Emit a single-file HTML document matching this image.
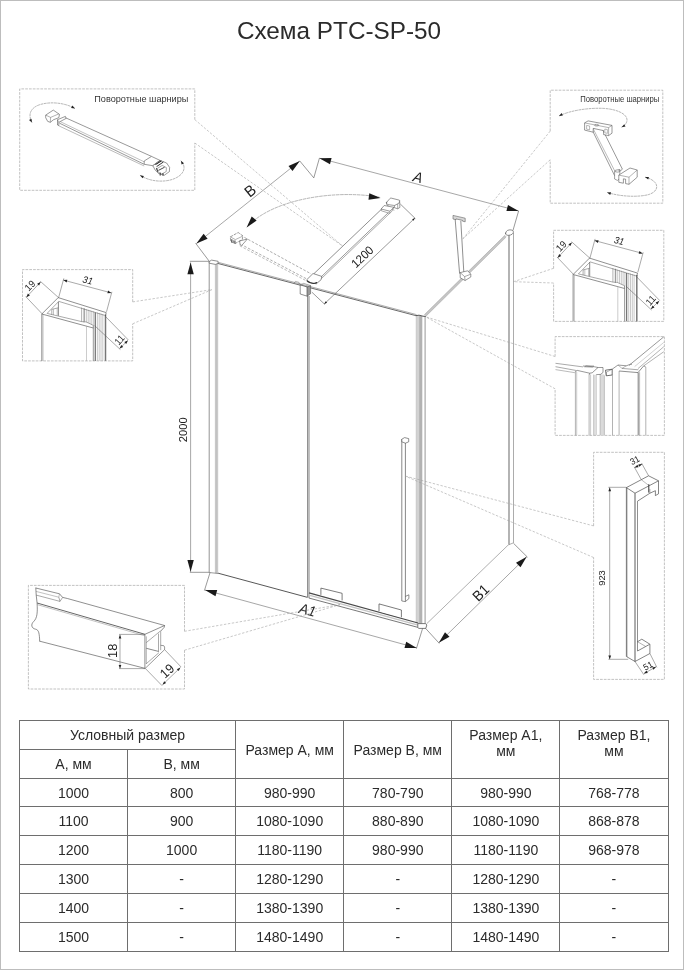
<!DOCTYPE html>
<html lang="ru">
<head>
<meta charset="utf-8">
<title>Схема PTC-SP-50</title>
<style>
  html, body { margin: 0; padding: 0; background: #fff; }
  body { width: 684px; height: 970px; position: relative; overflow: hidden;
         font-family: "Liberation Sans", sans-serif; color: #2b2b2b; }
  .frame, h1, #drawing, table.sizes { will-change: transform; }
  .frame { position: absolute; left: 0; top: 0; width: 682px; height: 968px; border: 1px solid #bdbdbd; }
  h1 { position: absolute; left: 0; top: 15px; width: 678px; margin: 0; text-align: center;
       font-weight: normal; font-size: 24.3px; line-height: 32px; color: #2b2b2b; letter-spacing: 0; }
  #drawing { position: absolute; left: 0; top: 0; width: 684px; height: 970px; }
  table.sizes { position: absolute; left: 19px; top: 720px; width: 649.5px; border-collapse: collapse;
        table-layout: fixed; font-size: 14px; color: #2b2b2b; }
  table.sizes td, table.sizes th { border: 1px solid #6e6e6e; padding: 0; text-align: center;
        font-weight: normal; height: 28px; line-height: 16px; vertical-align: middle; }
  table.sizes tr.s td { height: 27px; }
  table.sizes th.two { vertical-align: top; padding-top: 6px; }
</style>
</head>
<body>
<div class="frame"></div>
<h1>Схема PTC-SP-50</h1>
<svg id="drawing" viewBox="0 0 684 970" width="684" height="970" font-family="Liberation Sans, sans-serif">
<!--DRAWING-->
<g id="enclosure">
<line x1="209.2" y1="261.5" x2="209.2" y2="572.5" stroke="#666" stroke-width="0.7"/>
<line x1="216.5" y1="263" x2="216.5" y2="573.3" stroke="#c2c2c2" stroke-width="2.3"/>
<line x1="215.3" y1="263" x2="215.3" y2="573" stroke="#aaa" stroke-width="0.4"/>
<line x1="217.8" y1="263" x2="217.8" y2="573.5" stroke="#aaa" stroke-width="0.4"/>
<polygon points="209.2,261.6 211.6,260.1 218.1,261.3 218.1,263.4 215.4,264.4 209.2,263.2" fill="#fff" stroke="#444" stroke-width="0.6" stroke-linejoin="round"/>
<line x1="218.1" y1="262.3" x2="416.5" y2="314.6" stroke="#888" stroke-width="0.7"/>
<line x1="218.1" y1="263.5" x2="416.5" y2="315.8" stroke="#444" stroke-width="0.8"/>
<line x1="307.6" y1="296" x2="307.6" y2="597" stroke="#666" stroke-width="0.8"/>
<line x1="309" y1="296" x2="309" y2="598" stroke="#666" stroke-width="0.8"/>
<line x1="209.2" y1="572.5" x2="218.1" y2="573.5" stroke="#555" stroke-width="0.6"/>
<line x1="218.1" y1="573.2" x2="307.6" y2="597.4" stroke="#444" stroke-width="0.9"/>
<line x1="417.7" y1="315.6" x2="417.7" y2="623.4" stroke="#d2d2d2" stroke-width="2.8"/>
<line x1="420.7" y1="315.9" x2="420.7" y2="623.8" stroke="#b2b2b2" stroke-width="3.2"/>
<line x1="425.1" y1="316" x2="425.1" y2="623.6" stroke="#a0a0a0" stroke-width="1.1"/>
<line x1="416.2" y1="315.4" x2="416.2" y2="623.2" stroke="#aaa" stroke-width="0.5"/>
<path d="M416.2,315.6 L419,315.2 L423,316.2 L425.6,316.4" fill="none" stroke="#555" stroke-width="1" stroke-linejoin="round" stroke-linecap="round"/>
<line x1="425" y1="315.6" x2="505.6" y2="236" stroke="#c6c6c6" stroke-width="2.2"/>
<line x1="424.3" y1="314.8" x2="505" y2="235.2" stroke="#999" stroke-width="0.45"/>
<line x1="425.8" y1="316.4" x2="506.3" y2="236.9" stroke="#999" stroke-width="0.45"/>
<line x1="509" y1="234" x2="509" y2="544.6" stroke="#b0b0b0" stroke-width="1.9"/>
<line x1="513.5" y1="233" x2="513.5" y2="542.8" stroke="#888" stroke-width="0.7"/>
<path d="M505.6,233.2 C505.8,230.6 508.5,229.6 511,229.9 C513.2,230.2 513.8,231.8 513.2,233 C512.2,235 509,235.6 507,235.2 C506,235 505.6,234.2 505.6,233.2 Z" fill="#fff" stroke="#444" stroke-width="0.6" stroke-linejoin="round" stroke-linecap="round"/>
<line x1="426.6" y1="623.8" x2="508" y2="545.2" stroke="#8e8e8e" stroke-width="0.7"/>
<line x1="508.2" y1="545" x2="513.5" y2="542.8" stroke="#777" stroke-width="0.6"/>
<line x1="309" y1="592.8" x2="418" y2="623" stroke="#4a4a4a" stroke-width="1.2"/>
<line x1="309" y1="595.2" x2="418" y2="625.2" stroke="#c4c4c4" stroke-width="1.4"/>
<line x1="308.8" y1="598" x2="418" y2="627.4" stroke="#555" stroke-width="0.8"/>
<polygon points="417.8,623.6 425.6,623.6 426.8,625 425.8,628.4 418.6,628.4 417.8,627.2" fill="#fff" stroke="#444" stroke-width="0.7" stroke-linejoin="round"/>
<polyline points="320.9,594.9 320.9,588.1 342.1,593.3 342.1,600.4" fill="#fff" stroke="#444" stroke-width="0.7" stroke-linejoin="round"/>
<polyline points="379,611.3 379,603.9 401.4,610 401.4,617.3" fill="#fff" stroke="#444" stroke-width="0.7" stroke-linejoin="round"/>
<line x1="401.8" y1="439" x2="401.8" y2="601" stroke="#555" stroke-width="0.7"/>
<line x1="405.4" y1="441" x2="405.4" y2="601.4" stroke="#555" stroke-width="0.7"/>
<polygon points="401.8,439.2 404.6,437.6 408.7,438.6 408.7,441.8 405.4,443.2 401.8,441.8" fill="#fff" stroke="#444" stroke-width="0.6" stroke-linejoin="round"/>
<polyline points="401.8,601 405.4,601.6 408.9,598.6 408.9,594.8 405.4,596.4" fill="none" stroke="#444" stroke-width="0.6" stroke-linejoin="round"/>
</g>
<g id="bars">
<line x1="314" y1="273.6" x2="381.4" y2="209.3" stroke="#444" stroke-width="0.6"/>
<line x1="320.4" y1="277.6" x2="388.4" y2="212.6" stroke="#444" stroke-width="0.55"/>
<line x1="321.4" y1="278.6" x2="389.3" y2="213.7" stroke="#666" stroke-width="0.55"/>
<polyline points="399.6,200.3 399.9,207.4 397.7,208.8 394.2,207.6 394.7,205.2" fill="#fff" stroke="#444" stroke-width="0.55" stroke-linejoin="round"/>
<line x1="397.7" y1="208.8" x2="397.7" y2="204" stroke="#555" stroke-width="0.5"/>
<path d="M386.6,202.3 L390.2,198.3 Q390.6,197.9 391.2,198.1 L399.2,200.1 Q399.9,200.4 399.5,201.2 L399.2,203 L394.9,205.3 Q394.5,205.5 393.8,205.4 L387.9,204.6 Q386,204 386.6,202.3 Z" fill="#fff" stroke="#444" stroke-width="0.55" stroke-linejoin="round" stroke-linecap="round"/>
<path d="M386.5,203 L386.7,204.6 Q387,205.8 388.4,206" fill="none" stroke="#555" stroke-width="0.5" stroke-linejoin="round" stroke-linecap="round"/>
<polygon points="381.1,209 384.2,205.5 393.9,207.3 389.9,211.2" fill="#fff" stroke="#444" stroke-width="0.55" stroke-linejoin="round"/>
<polyline points="381.1,209 381.4,210.8 389.7,213.4 389.9,211.2" fill="none" stroke="#555" stroke-width="0.5" stroke-linejoin="round"/>
<polyline points="389.7,213.4 391.6,211.6 393.9,207.3" fill="none" stroke="#555" stroke-width="0.5" stroke-linejoin="round"/>
<line x1="392.4" y1="209.6" x2="394.4" y2="210.2" stroke="#666" stroke-width="0.5"/>
<polygon points="306.8,279.7 313,273.5 321.8,276.4 321.1,279.7 316.3,283.8 307.5,281.9" fill="#fff" stroke="#444" stroke-width="0.6" stroke-linejoin="round"/>
<path d="M307.4,281 C310,283.4 314,284 316.6,282.6" fill="none" stroke="#333" stroke-width="1.2" stroke-linejoin="round" stroke-linecap="round"/>
<polygon points="300.2,284.9 307.2,287 307.2,296.2 300.2,294" fill="#fff" stroke="#444" stroke-width="0.6" stroke-linejoin="round"/>
<polygon points="307.2,287 310.6,285.6 310.6,293.8 307.2,296.2" fill="#999" stroke="#444" stroke-width="0.5" stroke-linejoin="round"/>
<polyline points="300.2,284.9 303.6,283.4 310.6,285.6" fill="none" stroke="#555" stroke-width="0.5" stroke-linejoin="round"/>
<polyline points="294,283 295.4,281.4 299,282.4 300.2,284.6" fill="none" stroke="#666" stroke-width="0.5" stroke-linejoin="round"/>
<line x1="244.4" y1="237.4" x2="311" y2="273.8" stroke="#666" stroke-width="0.55" stroke-dasharray="2.6 1.6"/>
<line x1="240.6" y1="244.2" x2="306.5" y2="278.8" stroke="#666" stroke-width="0.55" stroke-dasharray="2.6 1.6"/>
<line x1="239.8" y1="245.8" x2="305.6" y2="280.4" stroke="#777" stroke-width="0.5" stroke-dasharray="2.6 1.6"/>
<polygon points="230.3,236.9 238.2,232.5 243,236 242.2,239.5 235.2,243.5 230.8,241.7" fill="#fff" stroke="#555" stroke-width="0.6" stroke-linejoin="round" stroke-dasharray="3 1"/>
<polyline points="230.3,236.9 235.4,239.6 243,236" fill="none" stroke="#666" stroke-width="0.5" stroke-linejoin="round"/>
<polygon points="239.6,241 247.4,239 241.8,245.4 240.2,245" fill="#fff" stroke="#444" stroke-width="0.55" stroke-linejoin="round"/>
<line x1="231.8" y1="239.2" x2="231.8" y2="242.6" stroke="#444" stroke-width="1.1"/>
<line x1="234.9" y1="240.4" x2="234.9" y2="243.8" stroke="#444" stroke-width="1.1"/>
<line x1="233.2" y1="240.2" x2="233.6" y2="242.6" stroke="#555" stroke-width="0.7"/>
<polygon points="453,215.4 465.2,218.2 465.2,221.8 462.6,221.2 462.6,220.4 456,218.9 456,219.7 453,219" fill="#d8d8d8" stroke="#555" stroke-width="0.55" stroke-linejoin="round"/>
<line x1="455.2" y1="219.6" x2="459.6" y2="273.6" stroke="#444" stroke-width="0.6"/>
<line x1="460.8" y1="220.8" x2="463.8" y2="272" stroke="#444" stroke-width="0.6"/>
<polygon points="460.2,272.6 467.7,270.8 470.8,274.2 470.8,277 465.1,280.5 460.2,277.8" fill="#fff" stroke="#444" stroke-width="0.55" stroke-linejoin="round"/>
<polyline points="460.2,272.6 464.6,276.6 470.8,274.2" fill="none" stroke="#555" stroke-width="0.5" stroke-linejoin="round"/>
<line x1="464.6" y1="276.6" x2="465.1" y2="280.5" stroke="#555" stroke-width="0.5"/>
<path d="M247.4,226.8 C270,201 330,189 379,197" fill="none" stroke="#777" stroke-width="0.55" stroke-linejoin="round" stroke-linecap="round" stroke-dasharray="2.8 1.4"/>
<polygon points="380.6,197.9 368.5,199.7 369.3,193.3" fill="#1a1a1a"/>
<polygon points="246.6,227.6 251.7,216.5 256.6,220.6" fill="#1a1a1a"/>
</g>
<g id="dims">
<line x1="189.8" y1="261.3" x2="209.2" y2="261.3" stroke="#555" stroke-width="0.6"/>
<line x1="189.8" y1="572.3" x2="209.2" y2="572.3" stroke="#555" stroke-width="0.6"/>
<line x1="190.6" y1="262.5" x2="190.6" y2="571.8" stroke="#5e5e5e" stroke-width="0.55"/>
<polygon points="190.6,262.5 193.8,274.3 187.4,274.3" fill="#1a1a1a"/>
<polygon points="190.6,571.8 187.4,560 193.8,560" fill="#1a1a1a"/>
<text x="186.7" y="429.8" font-size="11.8" text-anchor="middle" fill="#222" transform="rotate(-90 186.7 429.8)" textLength="24.8" lengthAdjust="spacingAndGlyphs">2000</text>
<line x1="195.6" y1="243.2" x2="209.2" y2="261.2" stroke="#555" stroke-width="0.6"/>
<line x1="196.4" y1="243.6" x2="299.8" y2="161" stroke="#5e5e5e" stroke-width="0.55"/>
<polygon points="196.4,243.6 203.6,233.7 207.6,238.7" fill="#1a1a1a"/>
<polygon points="299.8,161 292.5,170.9 288.5,165.9" fill="#1a1a1a"/>
<text x="253.5" y="194.9" font-size="15.5" text-anchor="middle" fill="#222" transform="rotate(-39 253.5 194.9)" textLength="9.8" lengthAdjust="spacingAndGlyphs">B</text>
<polyline points="299.8,161 313.8,177.9 319.4,158.2" fill="none" stroke="#555" stroke-width="0.6" stroke-linejoin="round"/>
<line x1="319.4" y1="158.2" x2="518.6" y2="211" stroke="#5e5e5e" stroke-width="0.55"/>
<polygon points="319.4,158.2 331.6,158.1 330,164.3" fill="#1a1a1a"/>
<polygon points="518.6,211 506.4,211.1 508,204.9" fill="#1a1a1a"/>
<line x1="518.6" y1="211" x2="512.9" y2="230.7" stroke="#555" stroke-width="0.6"/>
<text x="416.8" y="182.2" font-size="14.7" text-anchor="middle" fill="#222" font-style="italic" transform="rotate(14 416.8 182.2)" textLength="9.3" lengthAdjust="spacingAndGlyphs">A</text>
<line x1="324.2" y1="304" x2="415" y2="218" stroke="#555" stroke-width="0.6"/>
<polygon points="324.2,304 325.7,301.2 327.1,302.7" fill="#1a1a1a"/>
<polygon points="415,218 413.5,220.8 412.1,219.3" fill="#1a1a1a"/>
<line x1="311.9" y1="292.2" x2="324.8" y2="304.4" stroke="#555" stroke-width="0.6"/>
<line x1="400.3" y1="204" x2="415.4" y2="218.6" stroke="#555" stroke-width="0.6"/>
<text x="365.2" y="259.8" font-size="12" text-anchor="middle" fill="#222" transform="rotate(-43.5 365.2 259.8)" textLength="25.2" lengthAdjust="spacingAndGlyphs">1200</text>
<line x1="210" y1="572.7" x2="204.4" y2="590.6" stroke="#555" stroke-width="0.6"/>
<line x1="422.6" y1="628.4" x2="416.4" y2="648.6" stroke="#555" stroke-width="0.6"/>
<line x1="205" y1="590" x2="416.7" y2="647.9" stroke="#5e5e5e" stroke-width="0.55"/>
<polygon points="205,590 217.2,590 215.5,596.2" fill="#1a1a1a"/>
<polygon points="416.7,647.9 404.5,647.9 406.2,641.7" fill="#1a1a1a"/>
<text x="306.3" y="614.8" font-size="14.5" text-anchor="middle" fill="#222" font-style="italic" transform="rotate(14 306.3 614.8)" textLength="16.8" lengthAdjust="spacingAndGlyphs">A1</text>
<line x1="425.6" y1="628.4" x2="439.3" y2="643.4" stroke="#555" stroke-width="0.6"/>
<line x1="513.5" y1="543.3" x2="527.5" y2="557.2" stroke="#555" stroke-width="0.6"/>
<line x1="438.8" y1="642.8" x2="526.7" y2="556.7" stroke="#5e5e5e" stroke-width="0.55"/>
<polygon points="438.8,642.8 445,632.3 449.5,636.8" fill="#1a1a1a"/>
<polygon points="526.7,556.7 520.5,567.2 516,562.7" fill="#1a1a1a"/>
<text x="484.2" y="596.3" font-size="14.5" text-anchor="middle" fill="#222" transform="rotate(-44 484.2 596.3)" textLength="16.8" lengthAdjust="spacingAndGlyphs">B1</text>
</g>
<g id="callouts">
<line x1="194.8" y1="119.6" x2="342.7" y2="246.1" stroke="#9a9a9a" stroke-width="0.55" stroke-dasharray="2.4 1.6"/>
<line x1="194.8" y1="143" x2="342.7" y2="246.1" stroke="#9a9a9a" stroke-width="0.55" stroke-dasharray="2.4 1.6"/>
<line x1="550.2" y1="131.1" x2="462.7" y2="239" stroke="#9a9a9a" stroke-width="0.55" stroke-dasharray="2.4 1.6"/>
<line x1="550.2" y1="159.8" x2="462.7" y2="239" stroke="#9a9a9a" stroke-width="0.55" stroke-dasharray="2.4 1.6"/>
<line x1="132.7" y1="301.9" x2="212" y2="289.6" stroke="#9a9a9a" stroke-width="0.55" stroke-dasharray="2.4 1.6"/>
<line x1="132.7" y1="323.8" x2="212" y2="289.6" stroke="#9a9a9a" stroke-width="0.55" stroke-dasharray="2.4 1.6"/>
<line x1="553.6" y1="268.3" x2="513.5" y2="281.7" stroke="#9a9a9a" stroke-width="0.55" stroke-dasharray="2.4 1.6"/>
<line x1="553.6" y1="283" x2="513.5" y2="281.7" stroke="#9a9a9a" stroke-width="0.55" stroke-dasharray="2.4 1.6"/>
<line x1="555.1" y1="356.5" x2="425.7" y2="316.8" stroke="#9a9a9a" stroke-width="0.55" stroke-dasharray="2.4 1.6"/>
<line x1="555.1" y1="388.8" x2="425.7" y2="316.8" stroke="#9a9a9a" stroke-width="0.55" stroke-dasharray="2.4 1.6"/>
<line x1="593.6" y1="525.9" x2="405" y2="476" stroke="#9a9a9a" stroke-width="0.55" stroke-dasharray="2.4 1.6"/>
<line x1="593.6" y1="557.5" x2="405" y2="476" stroke="#9a9a9a" stroke-width="0.55" stroke-dasharray="2.4 1.6"/>
<line x1="184.5" y1="631.3" x2="340" y2="604.6" stroke="#9a9a9a" stroke-width="0.55" stroke-dasharray="2.4 1.6"/>
<line x1="184.5" y1="650.2" x2="340" y2="604.6" stroke="#9a9a9a" stroke-width="0.55" stroke-dasharray="2.4 1.6"/>
</g>
<g id="box-hinge-left">
<polyline points="194.8,119.6 194.8,88.9 19.7,88.9 19.7,190.3 194.8,190.3 194.8,143" fill="none" stroke="#999" stroke-width="0.6" stroke-linejoin="round" stroke-dasharray="2.7 1.1"/>
<text x="94.3" y="101.8" font-size="9.65" text-anchor="start" fill="#333" textLength="94" lengthAdjust="spacingAndGlyphs">Поворотные шарниры</text>
<line x1="65.4" y1="117.7" x2="151.5" y2="156.4" stroke="#444" stroke-width="0.55"/>
<line x1="59.5" y1="123.2" x2="144.2" y2="164.3" stroke="#444" stroke-width="0.55"/>
<line x1="60.2" y1="121.6" x2="145.4" y2="162.4" stroke="#777" stroke-width="0.45"/>
<line x1="58.8" y1="125.8" x2="144.2" y2="166" stroke="#666" stroke-width="0.45"/>
<polygon points="45.7,115.1 53.3,110.1 59.5,114.4 58.8,117.7 53.6,119.7 50.3,122.3 47.7,121.4 45.7,117.7" fill="#fff" stroke="#444" stroke-width="0.55" stroke-linejoin="round"/>
<polyline points="45.7,115.1 50.6,117.4 58.8,113.9" fill="none" stroke="#555" stroke-width="0.45" stroke-linejoin="round"/>
<line x1="50.6" y1="117.4" x2="50.3" y2="122.3" stroke="#555" stroke-width="0.45"/>
<polygon points="57.5,119.7 65.4,116.4 66.1,118.4 58.8,122.3 58.8,125.6 57.5,125" fill="#fff" stroke="#444" stroke-width="0.55" stroke-linejoin="round"/>
<line x1="57.5" y1="119.7" x2="58.8" y2="122.3" stroke="#555" stroke-width="0.45"/>
<polygon points="144.2,161 151.5,156.4 160,160.4 152.8,165.7 144.2,164.3" fill="#fff" stroke="#444" stroke-width="0.55" stroke-linejoin="round"/>
<polygon points="152.8,165.7 160,160.4 166.6,163 169.6,167.4 169.4,171.6 164.4,175.2 158.6,173.6 155.2,170" fill="#fff" stroke="#444" stroke-width="0.55" stroke-linejoin="round"/>
<line x1="155.4" y1="164.6" x2="161.4" y2="160.8" stroke="#222" stroke-width="1.1"/>
<line x1="156.6" y1="166.6" x2="163.4" y2="162" stroke="#333" stroke-width="1"/>
<path d="M157.4,168.4 L162.2,165.4 L166.4,167.6 L166.2,171.6 L161.6,174 L158.2,172.2 Z" fill="none" stroke="#555" stroke-width="0.5" stroke-linejoin="round" stroke-linecap="round"/>
<line x1="158.4" y1="170.4" x2="164.6" y2="167.2" stroke="#333" stroke-width="0.9"/>
<line x1="160.2" y1="172.6" x2="160.2" y2="175.6" stroke="#333" stroke-width="1"/>
<line x1="163" y1="173.2" x2="163" y2="175.8" stroke="#333" stroke-width="1"/>
<line x1="156.4" y1="168.2" x2="157.8" y2="171.8" stroke="#333" stroke-width="1"/>
<path d="M31.9,122.3 C27.5,114 31,107.5 40,104.6 C52,101 66,103.4 74.6,108.3" fill="none" stroke="#777" stroke-width="0.55" stroke-linejoin="round" stroke-linecap="round" stroke-dasharray="2 1.4"/>
<polygon points="31.9,122.6 29,119.9 31.5,118.7" fill="#222"/>
<polygon points="75,108.5 71.1,107.9 72.4,105.5" fill="#222"/>
<path d="M140.3,175.5 C150,181.5 163,182.6 173,179.2 C183,175.6 187.4,168 181.1,161" fill="none" stroke="#777" stroke-width="0.55" stroke-linejoin="round" stroke-linecap="round" stroke-dasharray="2 1.4"/>
<polygon points="140,175.3 143.9,175.9 142.6,178.3" fill="#222"/>
<polygon points="180.9,160.7 184,163.2 181.6,164.6" fill="#222"/>
</g>
<g id="box-hinge-right">
<polyline points="550.2,131.1 550.2,90.2 662.8,90.2 662.8,203.2 550.2,203.2 550.2,159.8" fill="none" stroke="#999" stroke-width="0.6" stroke-linejoin="round" stroke-dasharray="2.7 1.1"/>
<text x="580.3" y="101.5" font-size="8.2" text-anchor="start" fill="#333" textLength="79.1" lengthAdjust="spacingAndGlyphs">Поворотные шарниры</text>
<polygon points="591.4,128.4 602,128.4 622.4,169.2 614.6,175.6" fill="#fff" stroke="#444" stroke-width="0.55" stroke-linejoin="round"/>
<line x1="593.4" y1="129.2" x2="616.4" y2="174.2" stroke="#666" stroke-width="0.45"/>
<polygon points="584.6,122.9 588.1,120.9 612,125.4 612,133.2 608.6,135.6 603.6,134.6 603.6,130.6 593.2,128.4 593.2,132.2 584.6,130.1" fill="#fff" stroke="#444" stroke-width="0.55" stroke-linejoin="round"/>
<polyline points="584.6,122.9 608.6,127.6 612,125.4" fill="none" stroke="#555" stroke-width="0.45" stroke-linejoin="round"/>
<line x1="608.6" y1="127.6" x2="608.6" y2="135.6" stroke="#555" stroke-width="0.45"/>
<polygon points="586.6,125.4 589.6,126 589.6,129.8 586.6,129.2" fill="none" stroke="#666" stroke-width="0.45" stroke-linejoin="round"/>
<polygon points="604.8,129 607.4,129.6 607.4,133.4 604.8,132.8" fill="none" stroke="#666" stroke-width="0.45" stroke-linejoin="round"/>
<ellipse cx="596.6" cy="125.2" rx="2.2" ry="0.9" fill="none" stroke="#555" stroke-width="0.45"/>
<polygon points="614.6,171.6 619.8,169.4 619.8,178.6 617.4,180.4 614.6,179" fill="#fff" stroke="#444" stroke-width="0.5" stroke-linejoin="round"/>
<ellipse cx="617.4" cy="171" rx="2.5" ry="1.1" fill="#fff" stroke="#444" stroke-width="0.5"/>
<polygon points="618.8,175.1 630,168 637.2,170 637.2,177.2 629,184.3 625.6,183.6 625.6,179.2 623.4,178.8 623.4,183.2 618.8,182.3" fill="#fff" stroke="#444" stroke-width="0.55" stroke-linejoin="round"/>
<polyline points="618.8,175.1 629,177.2 637.2,170" fill="none" stroke="#555" stroke-width="0.45" stroke-linejoin="round"/>
<line x1="629" y1="177.2" x2="629" y2="184.3" stroke="#555" stroke-width="0.45"/>
<path d="M559.4,115.8 C570,110.6 588,107.6 604,108.4 C618,109.4 627.6,114.4 627,120.6 C626.6,123.4 624.6,125.6 621.9,127" fill="none" stroke="#777" stroke-width="0.55" stroke-linejoin="round" stroke-linecap="round" stroke-dasharray="2 1.4"/>
<polygon points="559,116 561.6,113 562.9,115.4" fill="#222"/>
<polygon points="621.6,127.2 624.2,124.2 625.5,126.6" fill="#222"/>
<path d="M607.5,192.5 C620,196.6 638,197.4 648.5,194.6 C657,192 659,186 654,181.4 C651.6,179.4 648.6,178 645.4,177.2" fill="none" stroke="#777" stroke-width="0.55" stroke-linejoin="round" stroke-linecap="round" stroke-dasharray="2 1.4"/>
<polygon points="607.2,192.4 611.1,192.3 610.2,194.9" fill="#222"/>
<polygon points="645,177.1 648.9,176.9 648.2,179.5" fill="#222"/>
</g>
<g id="box-profile-left">
<polyline points="132.7,301.9 132.7,269.6 22.5,269.6 22.5,360.9 132.7,360.9 132.7,323.8" fill="none" stroke="#999" stroke-width="0.6" stroke-linejoin="round" stroke-dasharray="2.7 1.1"/>
<line x1="84.6" y1="308.6" x2="84.6" y2="321.2" stroke="#a4a4a4" stroke-width="0.6"/>
<line x1="86.4" y1="309.1" x2="86.4" y2="322.1" stroke="#a4a4a4" stroke-width="0.6"/>
<line x1="88.2" y1="309.7" x2="88.2" y2="322.9" stroke="#a4a4a4" stroke-width="0.6"/>
<line x1="90" y1="310.2" x2="90" y2="323.8" stroke="#a4a4a4" stroke-width="0.6"/>
<line x1="91.8" y1="310.8" x2="91.8" y2="324.6" stroke="#a4a4a4" stroke-width="0.6"/>
<line x1="93.6" y1="311.3" x2="93.6" y2="325.5" stroke="#a4a4a4" stroke-width="0.6"/>
<line x1="97.4" y1="312.4" x2="97.4" y2="360.9" stroke="#a4a4a4" stroke-width="0.6"/>
<line x1="99.2" y1="313" x2="99.2" y2="360.9" stroke="#a4a4a4" stroke-width="0.6"/>
<line x1="101" y1="313.5" x2="101" y2="360.9" stroke="#a4a4a4" stroke-width="0.6"/>
<line x1="102.8" y1="314.1" x2="102.8" y2="360.9" stroke="#a4a4a4" stroke-width="0.6"/>
<line x1="95.3" y1="312.4" x2="95.3" y2="360.9" stroke="#777" stroke-width="1.3"/>
<line x1="105.5" y1="314.6" x2="105.5" y2="360.9" stroke="#777" stroke-width="1.5"/>
<line x1="81.6" y1="307.5" x2="81.6" y2="321.6" stroke="#666" stroke-width="0.5"/>
<line x1="84" y1="308.2" x2="84" y2="322.4" stroke="#555" stroke-width="0.6"/>
<line x1="41.8" y1="314" x2="41.8" y2="360.9" stroke="#444" stroke-width="0.6"/>
<line x1="43" y1="314.6" x2="43" y2="360.9" stroke="#777" stroke-width="0.45"/>
<line x1="86.5" y1="326.6" x2="86.5" y2="360.9" stroke="#999" stroke-width="0.5"/>
<line x1="93.3" y1="328" x2="93.3" y2="360.9" stroke="#555" stroke-width="0.6"/>
<polyline points="41.8,314 58.2,297.6 106.2,312.6 105.4,316" fill="none" stroke="#444" stroke-width="0.6" stroke-linejoin="round"/>
<polyline points="41.8,314 93.3,328 93.3,325.3" fill="none" stroke="#444" stroke-width="0.6" stroke-linejoin="round"/>
<polyline points="47.1,313.4 58.8,301.4 104.8,315.4" fill="none" stroke="#555" stroke-width="0.5" stroke-linejoin="round"/>
<polyline points="47.1,313.4 81.6,321.6 86,321.9 93.3,325.3" fill="none" stroke="#555" stroke-width="0.5" stroke-linejoin="round"/>
<line x1="58.4" y1="301.7" x2="58.4" y2="315.8" stroke="#555" stroke-width="0.7"/>
<polyline points="51.8,314.6 51.8,309.4 58.2,307.8" fill="none" stroke="#555" stroke-width="0.5" stroke-linejoin="round"/>
<line x1="53.5" y1="309.2" x2="53.5" y2="315" stroke="#777" stroke-width="0.45"/>
<line x1="57.2" y1="308.2" x2="57.2" y2="315.6" stroke="#777" stroke-width="0.45"/>
<line x1="42" y1="313.7" x2="25.8" y2="296.6" stroke="#555" stroke-width="0.5"/>
<line x1="58.6" y1="297.7" x2="40.2" y2="281.2" stroke="#555" stroke-width="0.5"/>
<line x1="26.4" y1="297.2" x2="40.6" y2="282" stroke="#555" stroke-width="0.5"/>
<polygon points="26.4,297.2 27.9,293.6 29.9,295.4" fill="#222"/>
<polygon points="40.6,282 39.1,285.6 37.1,283.8" fill="#222"/>
<text x="32.4" y="288.1" font-size="9.8" text-anchor="middle" fill="#222" transform="rotate(-46 32.4 288.1)" textLength="10.3" lengthAdjust="spacingAndGlyphs">19</text>
<line x1="58.6" y1="297.7" x2="63.8" y2="278.4" stroke="#555" stroke-width="0.5"/>
<line x1="106.5" y1="311.8" x2="111.9" y2="291.8" stroke="#555" stroke-width="0.5"/>
<line x1="63.4" y1="280.1" x2="111.3" y2="292.9" stroke="#555" stroke-width="0.5"/>
<polygon points="63.4,280.1 67.3,279.8 66.6,282.4" fill="#222"/>
<polygon points="111.3,292.9 107.4,293.2 108.1,290.6" fill="#222"/>
<text x="87" y="283.5" font-size="9.6" text-anchor="middle" fill="#222" font-style="italic" transform="rotate(14 87 283.5)" textLength="10.1" lengthAdjust="spacingAndGlyphs">31</text>
<line x1="94.7" y1="325.7" x2="120.4" y2="349.6" stroke="#555" stroke-width="0.5"/>
<line x1="105.2" y1="316.2" x2="128.4" y2="340" stroke="#555" stroke-width="0.5"/>
<line x1="119.6" y1="348.6" x2="127.9" y2="340.4" stroke="#555" stroke-width="0.5"/>
<polygon points="119.6,348.6 121.3,345 123.2,347" fill="#222"/>
<polygon points="127.9,340.4 126.2,344 124.3,342" fill="#222"/>
<text x="121.9" y="342.1" font-size="9.8" text-anchor="middle" fill="#222" transform="rotate(-48 121.9 342.1)" textLength="9.6" lengthAdjust="spacingAndGlyphs">11</text>
</g>
<g id="box-profile-right">
<polyline points="553.6,268.5 553.6,230.3 663.8,230.3 663.8,321.4 553.6,321.4 553.6,283.2" fill="none" stroke="#999" stroke-width="0.6" stroke-linejoin="round" stroke-dasharray="2.7 1.1"/>
<line x1="615.9" y1="269.1" x2="615.9" y2="281.7" stroke="#a4a4a4" stroke-width="0.6"/>
<line x1="617.7" y1="269.6" x2="617.7" y2="282.6" stroke="#a4a4a4" stroke-width="0.6"/>
<line x1="619.5" y1="270.2" x2="619.5" y2="283.4" stroke="#a4a4a4" stroke-width="0.6"/>
<line x1="621.3" y1="270.7" x2="621.3" y2="284.3" stroke="#a4a4a4" stroke-width="0.6"/>
<line x1="623.1" y1="271.3" x2="623.1" y2="285.1" stroke="#a4a4a4" stroke-width="0.6"/>
<line x1="624.9" y1="271.8" x2="624.9" y2="286" stroke="#a4a4a4" stroke-width="0.6"/>
<line x1="628.7" y1="272.9" x2="628.7" y2="321.4" stroke="#a4a4a4" stroke-width="0.6"/>
<line x1="630.5" y1="273.5" x2="630.5" y2="321.4" stroke="#a4a4a4" stroke-width="0.6"/>
<line x1="632.3" y1="274" x2="632.3" y2="321.4" stroke="#a4a4a4" stroke-width="0.6"/>
<line x1="634.1" y1="274.6" x2="634.1" y2="321.4" stroke="#a4a4a4" stroke-width="0.6"/>
<line x1="626.6" y1="272.9" x2="626.6" y2="321.4" stroke="#777" stroke-width="1.3"/>
<line x1="636.8" y1="275.1" x2="636.8" y2="321.4" stroke="#777" stroke-width="1.5"/>
<line x1="612.9" y1="268" x2="612.9" y2="282.1" stroke="#666" stroke-width="0.5"/>
<line x1="615.3" y1="268.7" x2="615.3" y2="282.9" stroke="#555" stroke-width="0.6"/>
<line x1="573.1" y1="274.5" x2="573.1" y2="321.4" stroke="#444" stroke-width="0.6"/>
<line x1="574.3" y1="275.1" x2="574.3" y2="321.4" stroke="#777" stroke-width="0.45"/>
<line x1="617.8" y1="287.1" x2="617.8" y2="321.4" stroke="#999" stroke-width="0.5"/>
<line x1="624.6" y1="288.5" x2="624.6" y2="321.4" stroke="#555" stroke-width="0.6"/>
<polyline points="573.1,274.5 589.5,258.1 637.5,273.1 636.7,276.5" fill="none" stroke="#444" stroke-width="0.6" stroke-linejoin="round"/>
<polyline points="573.1,274.5 624.6,288.5 624.6,285.8" fill="none" stroke="#444" stroke-width="0.6" stroke-linejoin="round"/>
<polyline points="578.4,273.9 590.1,261.9 636.1,275.9" fill="none" stroke="#555" stroke-width="0.5" stroke-linejoin="round"/>
<polyline points="578.4,273.9 612.9,282.1 617.3,282.4 624.6,285.8" fill="none" stroke="#555" stroke-width="0.5" stroke-linejoin="round"/>
<line x1="589.7" y1="262.2" x2="589.7" y2="276.3" stroke="#555" stroke-width="0.7"/>
<polyline points="583.1,275.1 583.1,269.9 589.5,268.3" fill="none" stroke="#555" stroke-width="0.5" stroke-linejoin="round"/>
<line x1="584.8" y1="269.7" x2="584.8" y2="275.5" stroke="#777" stroke-width="0.45"/>
<line x1="588.5" y1="268.7" x2="588.5" y2="276.1" stroke="#777" stroke-width="0.45"/>
<line x1="573.3" y1="274.2" x2="557.1" y2="257.1" stroke="#555" stroke-width="0.5"/>
<line x1="589.9" y1="258.2" x2="571.5" y2="241.7" stroke="#555" stroke-width="0.5"/>
<line x1="557.7" y1="257.7" x2="571.9" y2="242.5" stroke="#555" stroke-width="0.5"/>
<polygon points="557.7,257.7 559.2,254.1 561.2,255.9" fill="#222"/>
<polygon points="571.9,242.5 570.4,246.1 568.4,244.3" fill="#222"/>
<text x="563.7" y="248.6" font-size="9.8" text-anchor="middle" fill="#222" transform="rotate(-46 563.7 248.6)" textLength="10.3" lengthAdjust="spacingAndGlyphs">19</text>
<line x1="589.9" y1="258.2" x2="595.1" y2="238.9" stroke="#555" stroke-width="0.5"/>
<line x1="637.8" y1="272.3" x2="643.2" y2="252.3" stroke="#555" stroke-width="0.5"/>
<line x1="594.7" y1="240.6" x2="642.6" y2="253.4" stroke="#555" stroke-width="0.5"/>
<polygon points="594.7,240.6 598.6,240.3 597.9,242.9" fill="#222"/>
<polygon points="642.6,253.4 638.7,253.7 639.4,251.1" fill="#222"/>
<text x="618.3" y="244" font-size="9.6" text-anchor="middle" fill="#222" font-style="italic" transform="rotate(14 618.3 244)" textLength="10.1" lengthAdjust="spacingAndGlyphs">31</text>
<line x1="626" y1="286.2" x2="651.7" y2="310.1" stroke="#555" stroke-width="0.5"/>
<line x1="636.5" y1="276.7" x2="659.7" y2="300.5" stroke="#555" stroke-width="0.5"/>
<line x1="650.9" y1="309.1" x2="659.2" y2="300.9" stroke="#555" stroke-width="0.5"/>
<polygon points="650.9,309.1 652.6,305.5 654.5,307.5" fill="#222"/>
<polygon points="659.2,300.9 657.5,304.5 655.6,302.5" fill="#222"/>
<text x="653.2" y="302.6" font-size="9.8" text-anchor="middle" fill="#222" transform="rotate(-48 653.2 302.6)" textLength="9.6" lengthAdjust="spacingAndGlyphs">11</text>
</g>
<g id="box-corner">
<polyline points="555.1,356.5 555.1,336.6 664.4,336.6 664.4,435.4 555.1,435.4 555.1,388.8" fill="none" stroke="#999" stroke-width="0.6" stroke-linejoin="round" stroke-dasharray="2.7 1.1"/>
<line x1="575.4" y1="371.4" x2="575.4" y2="435.4" stroke="#666" stroke-width="0.5"/>
<line x1="576.7" y1="371.8" x2="576.7" y2="435.4" stroke="#999" stroke-width="0.5"/>
<line x1="589.1" y1="374.2" x2="589.1" y2="435.4" stroke="#666" stroke-width="0.5"/>
<line x1="590.6" y1="374.6" x2="590.6" y2="435.4" stroke="#999" stroke-width="0.5"/>
<line x1="593.5" y1="374.6" x2="593.5" y2="435.4" stroke="#999" stroke-width="0.5"/>
<line x1="594.9" y1="374.8" x2="594.9" y2="435.4" stroke="#888" stroke-width="0.5"/>
<line x1="596.3" y1="374.6" x2="596.3" y2="435.4" stroke="#999" stroke-width="0.5"/>
<line x1="602.2" y1="374.4" x2="602.2" y2="435.4" stroke="#dadada" stroke-width="4"/>
<line x1="600.1" y1="374.2" x2="600.1" y2="435.4" stroke="#888" stroke-width="0.5"/>
<line x1="604.4" y1="375.4" x2="604.4" y2="435.4" stroke="#888" stroke-width="0.5"/>
<line x1="612.5" y1="375" x2="612.5" y2="435.4" stroke="#666" stroke-width="0.5"/>
<line x1="619.1" y1="371" x2="619.1" y2="435.4" stroke="#666" stroke-width="0.5"/>
<line x1="638.2" y1="372.6" x2="638.2" y2="435.4" stroke="#444" stroke-width="0.7"/>
<line x1="639.6" y1="372.2" x2="639.6" y2="435.4" stroke="#777" stroke-width="0.5"/>
<line x1="645.8" y1="367" x2="645.8" y2="435.4" stroke="#666" stroke-width="0.5"/>
<line x1="555.5" y1="363.3" x2="583" y2="366.9" stroke="#555" stroke-width="0.5"/>
<line x1="555.5" y1="366.7" x2="576.3" y2="370.5" stroke="#555" stroke-width="0.5"/>
<line x1="555.5" y1="369.6" x2="574.9" y2="372.7" stroke="#777" stroke-width="0.5"/>
<polyline points="575.4,371.6 577.2,370.4 589.6,373.2 589.6,374.6" fill="none" stroke="#444" stroke-width="0.55" stroke-linejoin="round"/>
<polyline points="583,366 594.7,366.8 598,367.5 592.2,372.8 589.6,373.2" fill="none" stroke="#444" stroke-width="0.55" stroke-linejoin="round"/>
<polygon points="584.6,366.8 586,365.6 593.8,366 592.4,367.2" fill="none" stroke="#555" stroke-width="0.45" stroke-linejoin="round"/>
<polyline points="598,367.5 603,367.5 603,372.5 600.5,374.4 596.3,374.6" fill="none" stroke="#444" stroke-width="0.55" stroke-linejoin="round"/>
<polyline points="605.5,370.2 612.2,369.2 612.2,375 606.3,375.8 605.5,370.2" fill="none" stroke="#333" stroke-width="0.7" stroke-linejoin="round"/>
<polyline points="606.3,375.8 606.3,372.2 612.2,369.2" fill="none" stroke="#555" stroke-width="0.45" stroke-linejoin="round"/>
<polyline points="612.2,369.2 618,365 626.3,365.8 630.5,364.2" fill="none" stroke="#444" stroke-width="0.55" stroke-linejoin="round"/>
<polyline points="619.1,371 638,372.6 643.8,365.8 645.6,366.8" fill="none" stroke="#444" stroke-width="0.6" stroke-linejoin="round"/>
<polyline points="618,365 622,368.4 626.3,365.8" fill="none" stroke="#666" stroke-width="0.45" stroke-linejoin="round"/>
<line x1="622" y1="368.4" x2="638.4" y2="369.8" stroke="#555" stroke-width="0.5"/>
<polyline points="629.2,365.6 630.8,364 632,364.6" fill="none" stroke="#444" stroke-width="0.5" stroke-linejoin="round"/>
<line x1="630.5" y1="364.2" x2="663.8" y2="336.8" stroke="#444" stroke-width="0.55"/>
<line x1="638" y1="368.6" x2="663.8" y2="346.7" stroke="#666" stroke-width="0.5"/>
<line x1="643.8" y1="365.8" x2="663.8" y2="351.7" stroke="#666" stroke-width="0.5"/>
<line x1="634.6" y1="366.6" x2="663.8" y2="342.4" stroke="#999" stroke-width="0.45"/>
</g>
<g id="box-handle">
<polyline points="593.6,525.9 593.6,452.3 664.4,452.3 664.4,679.4 593.6,679.4 593.6,557.5" fill="none" stroke="#999" stroke-width="0.6" stroke-linejoin="round" stroke-dasharray="2.7 1.1"/>
<line x1="626.4" y1="487.6" x2="626.4" y2="656.5" stroke="#333" stroke-width="0.7"/>
<line x1="627.3" y1="488.4" x2="627.3" y2="657" stroke="#888" stroke-width="0.45"/>
<line x1="635" y1="493.2" x2="635" y2="661.5" stroke="#333" stroke-width="0.8"/>
<line x1="637.5" y1="501.2" x2="637.5" y2="651" stroke="#444" stroke-width="0.6"/>
<polygon points="626.4,487.6 648.6,475.8 658.5,480.8 635,493.2" fill="none" stroke="#333" stroke-width="0.6" stroke-linejoin="round"/>
<polyline points="637.5,501.2 649.9,493.2 655.4,490.7 655.4,495.6 658.5,493.8 658.5,480.8" fill="none" stroke="#333" stroke-width="0.6" stroke-linejoin="round"/>
<line x1="648.8" y1="484.2" x2="648.8" y2="492.6" stroke="#333" stroke-width="1"/>
<line x1="641.2" y1="479.6" x2="648.6" y2="485.3" stroke="#666" stroke-width="0.45"/>
<line x1="649.9" y1="493.2" x2="649.9" y2="489" stroke="#555" stroke-width="0.45"/>
<polyline points="626.4,656.5 635,661.5 649.9,653.5 649.9,644.2 641.8,639.2 637.5,641.7" fill="none" stroke="#333" stroke-width="0.6" stroke-linejoin="round"/>
<polyline points="637.5,651 649.5,644.4" fill="none" stroke="#333" stroke-width="0.6" stroke-linejoin="round"/>
<line x1="637.5" y1="641.7" x2="645.6" y2="646.4" stroke="#555" stroke-width="0.45"/>
<line x1="608.4" y1="487.3" x2="626.4" y2="487.3" stroke="#555" stroke-width="0.5"/>
<line x1="608.4" y1="659.3" x2="628.2" y2="659.3" stroke="#555" stroke-width="0.5"/>
<line x1="609.7" y1="487.6" x2="609.7" y2="659.2" stroke="#555" stroke-width="0.5"/>
<polygon points="609.7,487.6 611.1,491.3 608.4,491.3" fill="#222"/>
<polygon points="609.7,659.2 608.4,655.5 611.1,655.5" fill="#222"/>
<text x="604.5" y="578" font-size="9.9" text-anchor="middle" fill="#222" transform="rotate(-90 604.5 578)" textLength="15.6" lengthAdjust="spacingAndGlyphs">923</text>
<line x1="648.6" y1="475.8" x2="641.6" y2="463.2" stroke="#555" stroke-width="0.5"/>
<line x1="641.2" y1="479.5" x2="634.2" y2="466.8" stroke="#555" stroke-width="0.5"/>
<line x1="634.6" y1="467.6" x2="642.2" y2="464" stroke="#555" stroke-width="0.5"/>
<polygon points="634.6,467.6 637.4,464.8 638.5,467.2" fill="#222"/>
<polygon points="642.2,464 639.4,466.8 638.3,464.4" fill="#222"/>
<text x="636.3" y="463" font-size="9" text-anchor="middle" fill="#222" transform="rotate(-28 636.3 463)" textLength="9.5" lengthAdjust="spacingAndGlyphs">31</text>
<line x1="635" y1="661.5" x2="643.9" y2="674.8" stroke="#555" stroke-width="0.5"/>
<line x1="649.9" y1="653.5" x2="656.9" y2="667.4" stroke="#555" stroke-width="0.5"/>
<line x1="643.9" y1="673.6" x2="656.1" y2="666.8" stroke="#555" stroke-width="0.5"/>
<polygon points="643.9,673.6 646.5,670.6 647.8,673" fill="#222"/>
<polygon points="656.1,666.8 653.5,669.8 652.2,667.4" fill="#222"/>
<text x="649.5" y="668.6" font-size="9" text-anchor="middle" fill="#222" transform="rotate(-28 649.5 668.6)" textLength="9.5" lengthAdjust="spacingAndGlyphs">51</text>
</g>
<g id="box-rail">
<polyline points="184.5,631.3 184.5,585.4 28.4,585.4 28.4,689 184.5,689 184.5,650.2" fill="none" stroke="#999" stroke-width="0.6" stroke-linejoin="round" stroke-dasharray="2.7 1.1"/>
<polyline points="35.8,588 59.5,593.8 62.6,597.4 67.4,598.5 164.6,625.5 164.2,627.3 160.7,631.2" fill="none" stroke="#444" stroke-width="0.6" stroke-linejoin="round"/>
<polyline points="39.7,641.2 145.2,668.4" fill="none" stroke="#444" stroke-width="0.6" stroke-linejoin="round"/>
<path d="M35.8,588 L36.2,595 L37.1,603 C37.6,612 37.4,618 33.6,621.6 C30.6,624.4 31.4,628.4 35.6,629.2 C39,629.8 39.4,634 39.7,641.2" fill="none" stroke="#444" stroke-width="0.6" stroke-linejoin="round" stroke-linecap="round"/>
<polyline points="36.2,595.1 60,601.4 62.6,597.4" fill="none" stroke="#555" stroke-width="0.5" stroke-linejoin="round"/>
<polyline points="36,591.4 58.8,597.2 59.5,593.8" fill="none" stroke="#777" stroke-width="0.45" stroke-linejoin="round"/>
<line x1="58.8" y1="597.2" x2="60" y2="601.4" stroke="#555" stroke-width="0.5"/>
<line x1="37.1" y1="603" x2="144.9" y2="634.3" stroke="#555" stroke-width="0.9"/>
<line x1="37.3" y1="604.6" x2="144.9" y2="635.8" stroke="#999" stroke-width="0.6"/>
<line x1="144.9" y1="634.3" x2="164.6" y2="625.5" stroke="#444" stroke-width="0.6"/>
<line x1="144.9" y1="634.3" x2="144.9" y2="668.2" stroke="#444" stroke-width="0.6"/>
<line x1="146.3" y1="636.4" x2="146.3" y2="664" stroke="#666" stroke-width="0.5"/>
<line x1="146.3" y1="642.6" x2="160.5" y2="630.9" stroke="#555" stroke-width="0.5"/>
<line x1="158.5" y1="633.6" x2="158.5" y2="651.8" stroke="#555" stroke-width="0.5"/>
<line x1="160.7" y1="631.2" x2="160.7" y2="650.2" stroke="#555" stroke-width="0.5"/>
<line x1="146.3" y1="648.3" x2="158.5" y2="651.4" stroke="#555" stroke-width="0.7"/>
<line x1="146.3" y1="663.7" x2="158.9" y2="652.7" stroke="#555" stroke-width="0.5"/>
<polyline points="145.2,668.4 164.6,649.6 164.6,647 163.8,645.7 160.7,645.3" fill="none" stroke="#444" stroke-width="0.55" stroke-linejoin="round"/>
<line x1="119" y1="634.4" x2="144.9" y2="634.4" stroke="#555" stroke-width="0.5"/>
<line x1="119" y1="668.6" x2="145.2" y2="668.6" stroke="#555" stroke-width="0.5"/>
<line x1="120" y1="634.8" x2="120" y2="668.6" stroke="#555" stroke-width="0.5"/>
<polygon points="120,634.8 121.3,638.5 118.7,638.5" fill="#222"/>
<polygon points="120,668.6 118.7,664.9 121.3,664.9" fill="#222"/>
<text x="117" y="650.8" font-size="13.6" text-anchor="middle" fill="#222" transform="rotate(-90 117 650.8)" textLength="14.3" lengthAdjust="spacingAndGlyphs">18</text>
<line x1="145.4" y1="668.5" x2="162.2" y2="685.8" stroke="#555" stroke-width="0.5"/>
<line x1="164.6" y1="649.6" x2="181.1" y2="667" stroke="#555" stroke-width="0.5"/>
<line x1="162.5" y1="684.7" x2="180.4" y2="667.6" stroke="#555" stroke-width="0.5"/>
<polygon points="162.5,684.7 164.2,681.2 166.1,683.1" fill="#222"/>
<polygon points="180.4,667.6 178.7,671.1 176.8,669.2" fill="#222"/>
<text x="170.2" y="674.3" font-size="13.2" text-anchor="middle" fill="#222" transform="rotate(-43 170.2 674.3)" textLength="13.9" lengthAdjust="spacingAndGlyphs">19</text>
</g>
<!--/DRAWING-->
</svg>
<table class="sizes">
  <colgroup><col><col><col><col><col><col></colgroup>
  <thead>
    <tr><th colspan="2">Условный размер</th><th rowspan="2">Размер А, мм</th><th rowspan="2">Размер В, мм</th><th rowspan="2" class="two">Размер А1,<br>мм</th><th rowspan="2" class="two">Размер В1,<br>мм</th></tr>
    <tr><th>А, мм</th><th>В, мм</th></tr>
  </thead>
  <tbody>
    <tr class="s"><td>1000</td><td>800</td><td>980-990</td><td>780-790</td><td>980-990</td><td>768-778</td></tr>
    <tr><td>1100</td><td>900</td><td>1080-1090</td><td>880-890</td><td>1080-1090</td><td>868-878</td></tr>
    <tr><td>1200</td><td>1000</td><td>1180-1190</td><td>980-990</td><td>1180-1190</td><td>968-978</td></tr>
    <tr><td>1300</td><td>-</td><td>1280-1290</td><td>-</td><td>1280-1290</td><td>-</td></tr>
    <tr><td>1400</td><td>-</td><td>1380-1390</td><td>-</td><td>1380-1390</td><td>-</td></tr>
    <tr><td>1500</td><td>-</td><td>1480-1490</td><td>-</td><td>1480-1490</td><td>-</td></tr>
  </tbody>
</table>
</body>
</html>
